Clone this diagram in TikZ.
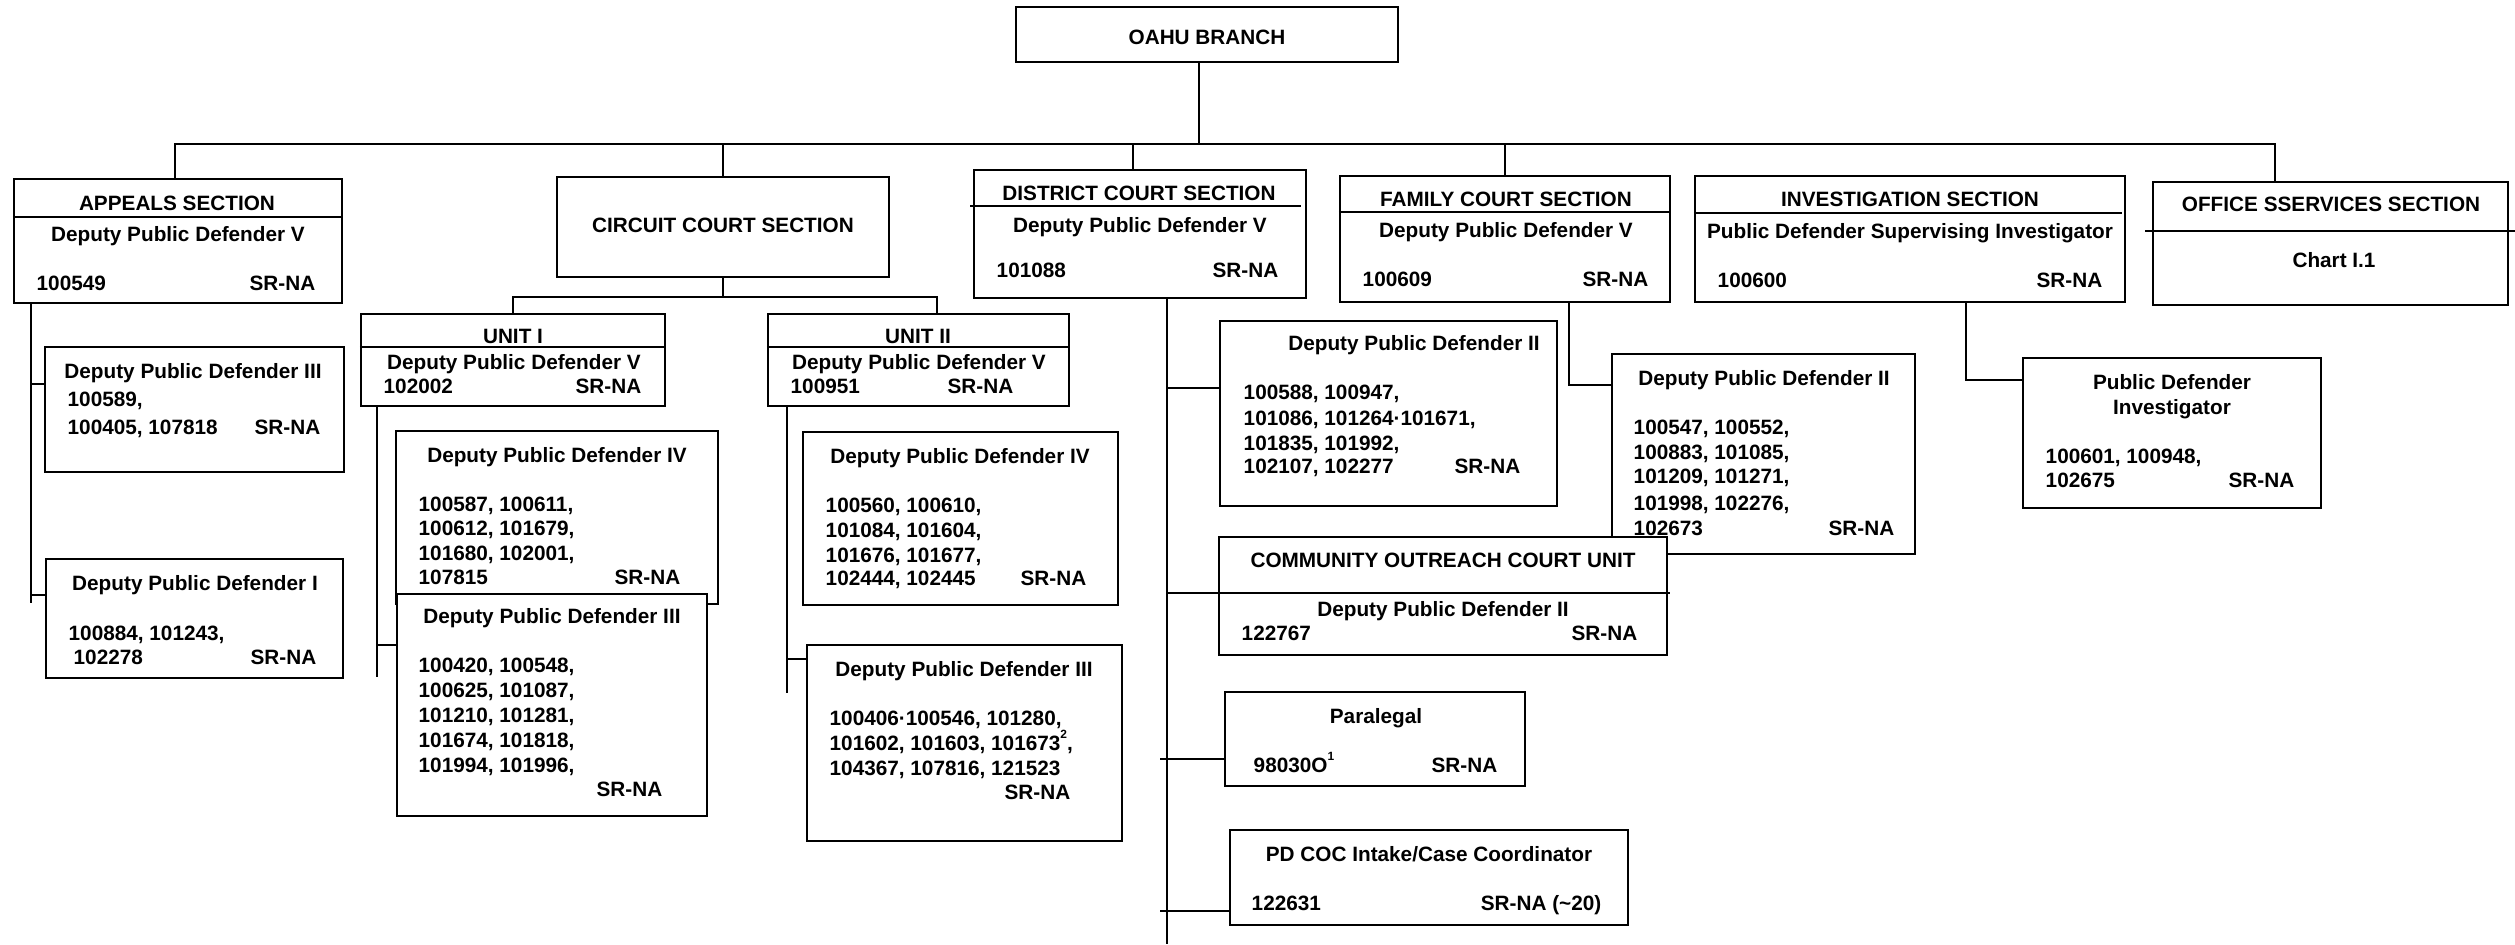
\documentclass[tikz,border=0pt]{standalone}
\usepackage{fontspec}
\setmainfont{Liberation Sans}
\usetikzlibrary{fit}
\newcount\tcnt
\newcommand\TxC[3]{\global\advance\tcnt by 1 \node[txt,anchor=base] (t\the\tcnt) at (#1,#2) {#3};}
\newcommand\TxL[3]{\global\advance\tcnt by 1 \node[txt,anchor=base west] (t\the\tcnt) at (#1,#2) {#3};}
\newcommand\TxR[3]{\global\advance\tcnt by 1 \node[txt,anchor=base east] (t\the\tcnt) at (#1,#2) {#3};}
\newcommand\smallsup[1]{\raisebox{1.05ex}{\fontsize{3.4}{4}\selectfont #1}}
\begin{document}
\begin{tikzpicture}[x=0.01cm,y=-0.01cm,
  box/.style={draw,line width=0.7pt,fill=white,inner sep=0pt},
  ln/.style={line width=0.7pt},
  txt/.style={font=\bfseries\fontsize{5.9}{7}\selectfont,inner sep=0pt}]
\useasboundingbox (0,0) rectangle (2515,944);

% ---------- boxes ----------
\node[box,fit={(1016,7) (1398,62)}] (oahu) {};
\node[box,fit={(14,179) (342,303)}] (appeals) {};
\node[box,fit={(45,347) (344,472)}] (apIII) {};
\node[box,fit={(46,559) (343,678)}] (apI) {};
\node[box,fit={(557,177) (889,277)}] (circuit) {};
\node[box,fit={(361,314) (665,406)}] (unitI) {};
\node[box,fit={(768,314) (1069,406)}] (unitII) {};
\node[box,fit={(396,431) (718,604)}] (uIiv) {};
\node[box,fit={(397,594) (707,816)}] (uIiii) {};
\node[box,fit={(803,432) (1118,605)}] (uIIiv) {};
\node[box,fit={(807,645) (1122,841)}] (uIIiii) {};
\node[box,fit={(974,170) (1306,298)}] (district) {};
\node[box,fit={(1340,176) (1670,302)}] (family) {};
\node[box,fit={(1695,176) (2125,302)}] (invest) {};
\node[box,fit={(2153,182) (2508,305)}] (office) {};
\node[box,fit={(2023,358) (2321,508)}] (pdi) {};
\node[box,fit={(1612,354) (1915,554)}] (famII) {};
\node[box,fit={(1220,321) (1557,506)}] (distII) {};
\node[box,fit={(1219,537) (1667,655)}] (coc) {};
\node[box,fit={(1225,692) (1525,786)}] (para) {};
\node[box,fit={(1230,830) (1628,925)}] (pdcoc) {};

% ---------- dividers ----------
\draw[ln] (appeals.west |- 0,217) -- (appeals.east |- 0,217);
\draw[ln] (unitI.west |- 0,347) -- (unitI.east |- 0,347);
\draw[ln] (unitII.west |- 0,347) -- (unitII.east |- 0,347);
\draw[ln] (970,206) -- (1301,206);
\draw[ln] (family.west |- 0,212) -- (family.east |- 0,212);
\draw[ln] (invest.west |- 0,213) -- (2122,213);
\draw[ln] (2145,231) -- (2515,231);

% ---------- connectors ----------
\coordinate (busL) at (175,144);
\coordinate (busR) at (2275,144);
\coordinate (od) at (1199,144);
\coordinate (dd) at (1133,144);
\draw[ln] (appeals.north -| busL) -- (busL) -- (busR) -- (busR |- office.north);
\draw[ln] (od |- oahu.south) -- (od);
\draw[ln] (circuit.north) -- (circuit.north |- busL);
\draw[ln] (dd) -- (dd |- district.north);
\draw[ln] (family.north) -- (family.north |- busL);

\coordinate (cb) at (723,297);
\coordinate (u2d) at (937,297);
\draw[ln] (circuit.south) -- (cb);
\draw[ln] (unitI.north) |- (u2d) -- (u2d |- unitII.north);

% appeals
\coordinate (avt) at (31,303);
\coordinate (avb) at (31,603);
\coordinate (av1) at (31,384);
\coordinate (av2) at (31,595);
\draw[ln] (avt) -- (avb);
\draw[ln] (av1) -- (av1 -| apIII.west);
\draw[ln] (av2) -- (av2 -| apI.west);

% unit I
\coordinate (u1t) at (377,406);
\coordinate (u1b) at (377,677);
\coordinate (u1c) at (377,645);
\draw[ln] (u1t) -- (u1b);
\draw[ln] (u1c) -- (u1c -| uIiii.west);

% unit II
\coordinate (u2t) at (787,406);
\coordinate (u2b) at (787,693);
\coordinate (u2c) at (787,659);
\draw[ln] (u2t) -- (u2b);
\draw[ln] (u2c) -- (u2c -| uIIiii.west);

% district
\coordinate (dvt) at (1167,298);
\coordinate (dvb) at (1167,944);
\coordinate (dc1) at (1167,388);
\coordinate (dc2) at (1167,593);
\coordinate (dc3) at (1160,759);
\coordinate (dc4) at (1160,911);
\draw[ln] (dvt) -- (dvb);
\draw[ln] (dc1) -- (dc1 -| distII.west);
\draw[ln] (dc2) -- (1670,593);
\draw[ln] (dc3) -- (dc3 -| para.west);
\draw[ln] (dc4) -- (dc4 -| pdcoc.west);

% family
\coordinate (fv) at (1569,302);
\coordinate (fc) at (1569,385);
\draw[ln] (fv) -- (fc) -- (fc -| famII.west);

% investigation
\coordinate (iv) at (1966,302);
\coordinate (ic) at (1966,380);
\draw[ln] (iv) -- (ic) -- (ic -| pdi.west);

% ---------- texts ----------
\TxC{1207}{44}{OAHU BRANCH}

\TxC{177}{210}{APPEALS SECTION}
\TxC{178}{241}{Deputy Public Defender V}
\TxL{36}{290}{100549}
\TxR{316}{290}{SR-NA}

\TxC{193}{378}{Deputy Public Defender III}
\TxL{67}{406}{100589,}
\TxL{67}{434}{100405, 107818}
\TxR{321}{434}{SR-NA}

\TxC{195}{590}{Deputy Public Defender I}
\TxL{68}{640}{100884, 101243,}
\TxL{73}{664}{102278}
\TxR{317}{664}{SR-NA}

\TxC{723}{232}{CIRCUIT COURT SECTION}

\TxC{513}{343}{UNIT I}
\TxC{514}{369}{Deputy Public Defender V}
\TxL{383}{393}{102002}
\TxR{642}{393}{SR-NA}

\TxC{918}{343}{UNIT II}
\TxC{919}{369}{Deputy Public Defender V}
\TxL{790}{393}{100951}
\TxR{1014}{393}{SR-NA}

\TxC{557}{462}{Deputy Public Defender IV}
\TxL{418}{511}{100587, 100611,}
\TxL{418}{535}{100612, 101679,}
\TxL{418}{560}{101680, 102001,}
\TxL{418}{584}{107815}
\TxR{681}{584}{SR-NA}

\TxC{552}{623}{Deputy Public Defender III}
\TxL{418}{672}{100420, 100548,}
\TxL{418}{697}{100625, 101087,}
\TxL{418}{722}{101210, 101281,}
\TxL{418}{747}{101674, 101818,}
\TxL{418}{772}{101994, 101996,}
\TxR{663}{796}{SR-NA}

\TxC{960}{463}{Deputy Public Defender IV}
\TxL{825}{512}{100560, 100610,}
\TxL{825}{537}{101084, 101604,}
\TxL{825}{562}{101676, 101677,}
\TxL{825}{585}{102444, 102445}
\TxR{1087}{585}{SR-NA}

\TxC{964}{676}{Deputy Public Defender III}
\TxL{829}{725}{100406·100546, 101280,}
\TxL{829}{750}{101602, 101603, 101673\smallsup{2},}
\TxL{829}{775}{104367, 107816, 121523}
\TxR{1071}{799}{SR-NA}

\TxC{1139}{200}{DISTRICT COURT SECTION}
\TxC{1140}{232}{Deputy Public Defender V}
\TxL{996}{277}{101088}
\TxR{1279}{277}{SR-NA}

\TxC{1506}{206}{FAMILY COURT SECTION}
\TxC{1506}{237}{Deputy Public Defender V}
\TxL{1362}{286}{100609}
\TxR{1649}{286}{SR-NA}

\TxC{1910}{206}{INVESTIGATION SECTION}
\TxC{1910}{238}{Public Defender Supervising Investigator}
\TxL{1717}{287}{100600}
\TxR{2103}{287}{SR-NA}

\TxC{2331}{211}{OFFICE SSERVICES SECTION}
\TxC{2334}{267}{Chart I.1}

\TxC{2172}{389}{Public Defender}
\TxC{2172}{414}{Investigator}
\TxL{2045}{463}{100601, 100948,}
\TxL{2045}{487}{102675}
\TxR{2295}{487}{SR-NA}

\TxC{1764}{385}{Deputy Public Defender II}
\TxL{1633}{434}{100547, 100552,}
\TxL{1633}{459}{100883, 101085,}
\TxL{1633}{483}{101209, 101271,}
\TxL{1633}{510}{101998, 102276,}
\TxL{1633}{535}{102673}
\TxR{1895}{535}{SR-NA}

\TxC{1414}{350}{Deputy Public Defender II}
\TxL{1243}{399}{100588, 100947,}
\TxL{1243}{425}{101086, 101264·101671,}
\TxL{1243}{450}{101835, 101992,}
\TxL{1243}{473}{102107, 102277}
\TxR{1521}{473}{SR-NA}

\TxC{1443}{567}{COMMUNITY OUTREACH COURT UNIT}
\TxC{1443}{616}{Deputy Public Defender II}
\TxL{1241}{640}{122767}
\TxR{1638}{640}{SR-NA}

\TxC{1376}{723}{Paralegal}
\TxL{1253}{772}{98030O\smallsup{1}}
\TxR{1498}{772}{SR-NA}

\TxC{1429}{861}{PD COC Intake/Case Coordinator}
\TxL{1251}{910}{122631}
\TxR{1602}{910}{SR-NA (\textasciitilde 20)}
\end{tikzpicture}
\end{document}
